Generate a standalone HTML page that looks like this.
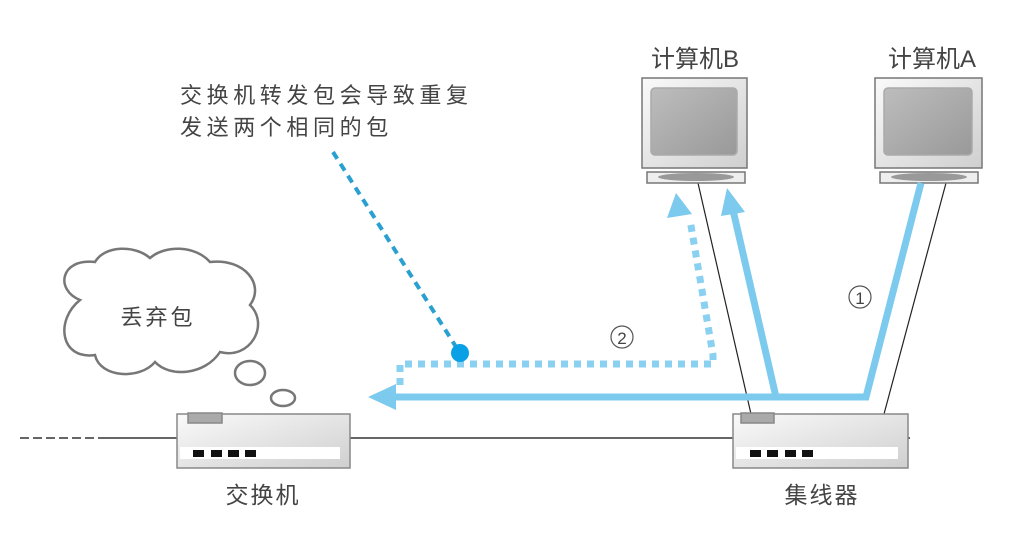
<!DOCTYPE html>
<html><head><meta charset="utf-8"><style>
body{margin:0;background:#fff;}
svg{display:block;}
text{font-family:"Liberation Sans","Noto Sans CJK SC",sans-serif;fill:#444;}
</style></head><body>
<svg width="1034" height="541" viewBox="0 0 1034 541" xmlns="http://www.w3.org/2000/svg">
<defs>
<linearGradient id="bx" x1="0" y1="0" x2="1" y2="1"><stop offset="0" stop-color="#fafafa"/><stop offset="1" stop-color="#cfcfcf"/></linearGradient>
<linearGradient id="scr" x1="0" y1="0" x2="1" y2="1"><stop offset="0" stop-color="#bdbdbd"/><stop offset="1" stop-color="#999"/></linearGradient>
</defs>
<text x="180" y="103" font-size="22" letter-spacing="4.6">交换机转发包会导致重复</text>
<text x="180" y="135" font-size="22" letter-spacing="4.6">发送两个相同的包</text>
<text x="695" y="67" font-size="24" text-anchor="middle">计算机B</text>
<text x="932" y="67" font-size="24" text-anchor="middle">计算机A</text>
<text x="263" y="503" font-size="23" text-anchor="middle" letter-spacing="2">交换机</text>
<text x="822" y="503" font-size="23" text-anchor="middle" letter-spacing="2">集线器</text>
<line x1="20" y1="438" x2="105" y2="438" stroke="#333" stroke-width="1.5" stroke-dasharray="9,4"/>
<line x1="105" y1="438" x2="910" y2="438" stroke="#333" stroke-width="1.5"/>
<line x1="698" y1="183" x2="751" y2="414" stroke="#222" stroke-width="1.2"/>
<line x1="946" y1="183" x2="884" y2="414" stroke="#222" stroke-width="1.2"/>
<g stroke="#777" stroke-width="1.5">
<rect x="642" y="78" width="105" height="90" fill="url(#bx)"/>
<rect x="651" y="88" width="86" height="67" rx="4" fill="url(#scr)" stroke="#aaa"/>
<rect x="647" y="172" width="98" height="11" fill="#eee"/>
<ellipse cx="696" cy="177" rx="38" ry="4" fill="#999" stroke="none"/>
<rect x="875" y="78" width="107" height="90" fill="url(#bx)"/>
<rect x="884" y="88" width="88" height="67" rx="4" fill="url(#scr)" stroke="#aaa"/>
<rect x="880" y="172" width="98" height="11" fill="#eee"/>
<ellipse cx="929" cy="177" rx="38" ry="4" fill="#999" stroke="none"/>
</g>
<g stroke="#888" stroke-width="1.5">
<rect x="177" y="414" width="173" height="54" fill="url(#bx)"/>
<rect x="188" y="413" width="34" height="10" fill="#aaa"/>
<rect x="733" y="414" width="175" height="54" fill="url(#bx)"/>
<rect x="741" y="413" width="33" height="10" fill="#aaa"/>
</g>
<rect x="180" y="447" width="160" height="12" fill="#fff"/>
<rect x="736" y="447" width="162" height="12" fill="#fff"/>
<g fill="#111">
<rect x="193" y="450" width="11" height="7"/><rect x="211" y="450" width="11" height="7"/><rect x="228" y="450" width="11" height="7"/><rect x="245" y="450" width="11" height="7"/>
<rect x="750" y="450" width="11" height="7"/><rect x="767" y="450" width="11" height="7"/><rect x="785" y="450" width="11" height="7"/><rect x="802" y="450" width="11" height="7"/>
</g>
<g stroke="#7ccaee" fill="none" stroke-width="7">
<polyline points="921,183 866,397 395,397"/>
<line x1="776" y1="397" x2="733" y2="210"/>
</g>
<polygon points="368,397 396,384 396,410" fill="#7ccaee"/>
<polygon points="727,188 721,216 745,212" fill="#7ccaee"/>
<g stroke="#8ad0f0" fill="none" stroke-width="7" stroke-dasharray="7,6">
<polyline points="400,385 400,364 713,364 713,355 690,220"/>
</g>
<polygon points="676,193 667,218 692,214" fill="#7ccaee"/>
<line x1="333" y1="152" x2="458" y2="350" stroke="#2aa0d0" stroke-width="4" stroke-dasharray="8,6"/>
<circle cx="460" cy="353" r="9" fill="#0aa0e6"/>
<circle cx="860" cy="297" r="11" fill="none" stroke="#555" stroke-width="1.2"/>
<text x="860" y="304" font-size="17" text-anchor="middle">1</text>
<circle cx="622" cy="337" r="11" fill="none" stroke="#555" stroke-width="1.2"/>
<text x="622" y="344" font-size="17" text-anchor="middle">2</text>
<path d="M80,300 C55,290 60,258 95,262 C105,245 135,245 150,258 C165,245 195,245 210,262 C245,258 265,285 250,305 C270,325 250,360 220,352 C205,375 170,378 155,362 C140,380 100,378 95,355 C60,360 55,320 80,300 Z" fill="#fff" stroke="#777" stroke-width="2.5"/>
<text x="158" y="325" font-size="22" text-anchor="middle" letter-spacing="3">丢弃包</text>
<ellipse cx="250" cy="373" rx="15" ry="12" fill="#fff" stroke="#777" stroke-width="2.5"/>
<ellipse cx="283" cy="398" rx="12" ry="8" fill="#fff" stroke="#777" stroke-width="2.5"/>
</svg>
</body></html>
